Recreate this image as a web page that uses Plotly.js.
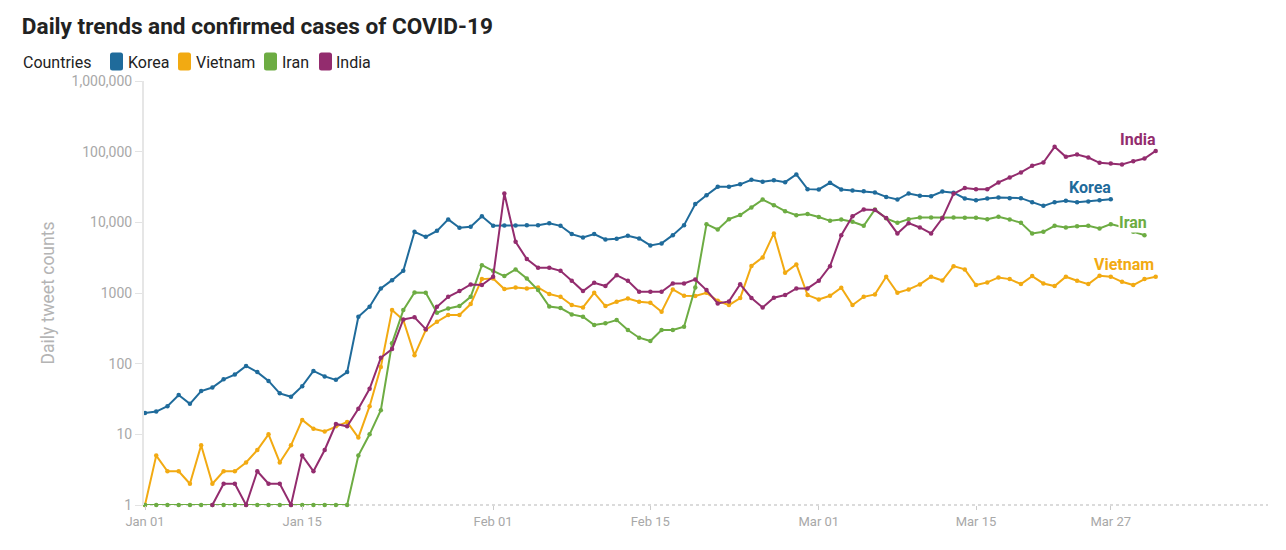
<!DOCTYPE html>
<html><head><meta charset="utf-8">
<script src="https://cdn.plot.ly/plotly-3.0.1.min.js"></script>
<style>html,body{margin:0;padding:0;background:#fff}#chart{width:1286px;height:550px}</style>
</head><body><div id="chart"></div>
<script>
// Day 0 = 2020-01-01
const startDate = '2020-01-01';
const countries = ['Korea', 'Vietnam', 'Iran', 'India'];
const colors = ['#1f6b9b', '#f2aa12', '#6dac43', '#932c6e'];

const korea = [20,21,25,36,27,41,46,60,70,93,76,57,38,34,48,79,66,59,76,460,
  640,1160,1520,2060,7340,6240,7580,11000,8370,8650,12200,8930,9000,9000,9100,9100,9700,8930,6810,6110,
  6810,5730,5850,6450,5920,4710,5030,6590,9120,18100,24200,31800,31800,34500,40000,37400,39500,37000,47600,29500,
  29200,36300,29200,28200,27600,26400,22900,21000,25600,23700,23400,27300,26300,21800,20600,21800,22500,22000,22000,19300,
  17100,19300,20200,19300,19700,20600,21300];

const vietnam = [1,5,3,3,2,7,2,3,3,4,6,10,4,7,16,12,11,13,15,9,
  25,90,573,414,132,299,392,487,487,697,1573,1607,1136,1199,1161,1199,965,883,674,625,
  1006,653,751,838,751,727,542,1124,914,905,1006,777,674,848,2420,3190,6970,1930,2540,935,
  811,914,1185,674,883,956,1700,1006,1124,1322,1700,1500,2400,2157,1295,1413,1662,1573,1336,1735,
  1365,1253,1700,1490,1336,1754,1700,1441,1295,1573,1700];

const iran = [1,1,1,1,1,1,1,1,1,1,1,1,1,1,1,1,1,1,1,5,
  10,22,194,573,1020,1010,525,605,653,883,2480,2060,1735,2157,1607,1099,645,612,498,461,
  352,372,414,299,233,209,299,299,333,1200,9430,7930,11100,12700,16200,21000,17500,14400,12600,13100,
  11900,10500,11000,10200,8930,15200,11400,9840,11100,11700,11700,11650,11700,11600,11600,11100,12000,11000,9840,6970,
  7340,8930,8460,8830,8930,8190,9430,8600,7340,6590];

const india = [null,null,null,null,null,null,1,2,2,1,3,2,2,1,5,3,6,14,13,23,
  44,121,161,423,452,308,638,883,1064,1322,1295,1700,25600,5300,3020,2270,2270,2060,1490,1064,
  1396,1253,1790,1490,1040,1040,1040,1365,1365,1557,1099,713,761,1330,850,625,857,935,1162,1162,
  1490,2400,6590,12200,15200,14900,11500,6970,9740,8460,6970,11400,25300,30700,29500,29500,36700,43100,50800,63100,
  70300,117000,84500,91200,82600,69500,68000,65900,73400,80100,102600];

const xTickVals = ['2020-01-01','2020-01-15','2020-02-01','2020-02-15','2020-03-01','2020-03-15','2020-03-27'];
const xTickText = ['Jan 01','Jan 15','Feb 01','Feb 15','Mar 01','Mar 15','Mar 27'];
const yTickVals = [1,10,100,1000,10000,100000,1000000];
const yTickText = ['1','10','100','1000','10,000','100,000','1,000,000'];
const legendTitle = 'Countries';

function datesFor(n) {
  const out = [];
  const t0 = Date.parse(startDate + 'T00:00:00Z');
  for (let i = 0; i < n; i++) out.push(new Date(t0 + i * 86400000).toISOString().slice(0, 10));
  return out;
}

const series = [korea, vietnam, iran, india];
const traces = series.map((vals, i) => ({
  type: 'scatter', mode: 'lines+markers', name: countries[i],
  x: datesFor(vals.length), y: vals,
  line: {color: colors[i], width: 2},
  marker: {color: colors[i], size: 4.5},
  cliponaxis: false, showlegend: false, connectgaps: false,
  hoverinfo: 'x+y+name'
}));

// plot-area geometry (pixels) for placing legend decorations in paper units
const M = {l: 144, r: 18, t: 81, b: 45};
const W = 1286, H = 550;
const pw = W - M.l - M.r, ph = H - M.t - M.b;
const px = v => (v - M.l) / pw;
const py = v => (H - M.b - v) / ph;

const shapes = [{type: 'line', xref: 'paper', yref: 'paper', x0: 0, x1: 1, y0: 0, y1: 0,
  line: {color: '#cfcfcf', width: 1.5, dash: 'dot'}, layer: 'below'}];
const annotations = [];

// Legend (drawn as swatches + texts, laid out like the reference)
annotations.push({xref: 'paper', yref: 'paper', x: px(21), y: py(62), xanchor: 'left', yanchor: 'middle',
  text: legendTitle, showarrow: false, font: {family: 'Roboto', size: 16, color: '#222'}});
const swatchX = [110, 178, 264, 319];
const textX = [126, 194, 280, 334];
countries.forEach((c, i) => {
  const x0 = swatchX[i], x1 = swatchX[i] + 13, y0 = 52.5, y1 = 70.5, r = 2.5;
  const path = `M${px(x0 + r)},${py(y0)} L${px(x1 - r)},${py(y0)} Q${px(x1)},${py(y0)} ${px(x1)},${py(y0 + r)} ` +
    `L${px(x1)},${py(y1 - r)} Q${px(x1)},${py(y1)} ${px(x1 - r)},${py(y1)} L${px(x0 + r)},${py(y1)} ` +
    `Q${px(x0)},${py(y1)} ${px(x0)},${py(y1 - r)} L${px(x0)},${py(y0 + r)} Q${px(x0)},${py(y0)} ${px(x0 + r)},${py(y0)} Z`;
  shapes.push({type: 'path', xref: 'paper', yref: 'paper', path: path, fillcolor: colors[i], line: {width: 0}});
  annotations.push({xref: 'paper', yref: 'paper', x: px(textX[i]), y: py(62), xanchor: 'left', yanchor: 'middle',
    text: c, showarrow: false, font: {family: 'Roboto', size: 16, color: '#222'}});
});

function lastIdx(a){ for (let i=a.length-1;i>=0;i--) if (a[i]!=null) return i; return -1; }
const dK = datesFor(korea.length), dV = datesFor(vietnam.length), dI = datesFor(iran.length), dN = datesFor(india.length);
annotations.push({x: dN[lastIdx(india)], y: Math.log10(india[lastIdx(india)]), xref:'x', yref:'y', text:'<b>India</b>',
  showarrow:false, xanchor:'right', yanchor:'bottom', yshift:0, xshift:2, font:{family:'Roboto', size:16, color:colors[3]}});
annotations.push({x: dK[lastIdx(korea)], y: Math.log10(korea[lastIdx(korea)]), xref:'x', yref:'y', text:'<b>Korea</b>',
  showarrow:false, xanchor:'right', yanchor:'bottom', yshift:0, xshift:2, font:{family:'Roboto', size:16, color:colors[0]}});
annotations.push({x: dI[iran.length-2], y: 4, xref:'x', yref:'y', text:'<b>Iran</b>',
  showarrow:false, xanchor:'center', yanchor:'middle', bgcolor:'#ffffff', borderpad:0, font:{family:'Roboto', size:16, color:colors[2]}});
annotations.push({x: dV[lastIdx(vietnam)], y: Math.log10(vietnam[lastIdx(vietnam)]), xref:'x', yref:'y', text:'<b>Vietnam</b>',
  showarrow:false, xanchor:'right', yanchor:'bottom', yshift:1, font:{family:'Roboto', size:16, color:colors[1]}});

const layout = {
  width: W, height: H,
  paper_bgcolor: '#ffffff', plot_bgcolor: '#ffffff',
  font: {family: 'Roboto, sans-serif', color: '#333'},
  margin: M,
  title: {text: '<b>Daily trends and confirmed cases of COVID-19</b>', xref: 'container', x: 0.017, xanchor: 'left',
    yref: 'container', y: 0.953, yanchor: 'middle', font: {family: 'Roboto', size: 22.6, color: '#222'}},
  showlegend: false,
  xaxis: {type: 'date', range: ['2019-12-31 21:52', '2020-04-10 00:00'],
    tickvals: xTickVals, ticktext: xTickText, tickfont: {size: 13, color: '#a8a8a8'},
    ticks: 'outside', ticklen: 4, tickcolor: '#cccccc', showgrid: false, zeroline: false,
    showline: false, fixedrange: true},
  yaxis: {type: 'log', range: [0, 6], tickvals: yTickVals, ticktext: yTickText,
    tickfont: {size: 14, color: '#a8a8a8'}, ticks: 'outside', ticklen: 7, tickcolor: '#e3e3e3',
    showgrid: false, zeroline: false, showline: true, linecolor: '#e6e6e6', linewidth: 2,
    title: {text: 'Daily tweet counts', font: {size: 17.5, color: '#b4b4b4'}, standoff: 12}, fixedrange: true},
  shapes: shapes,
  annotations: annotations
};

Plotly.newPlot('chart', traces, layout, {displayModeBar: false, staticPlot: true});
</script>
</body></html>
